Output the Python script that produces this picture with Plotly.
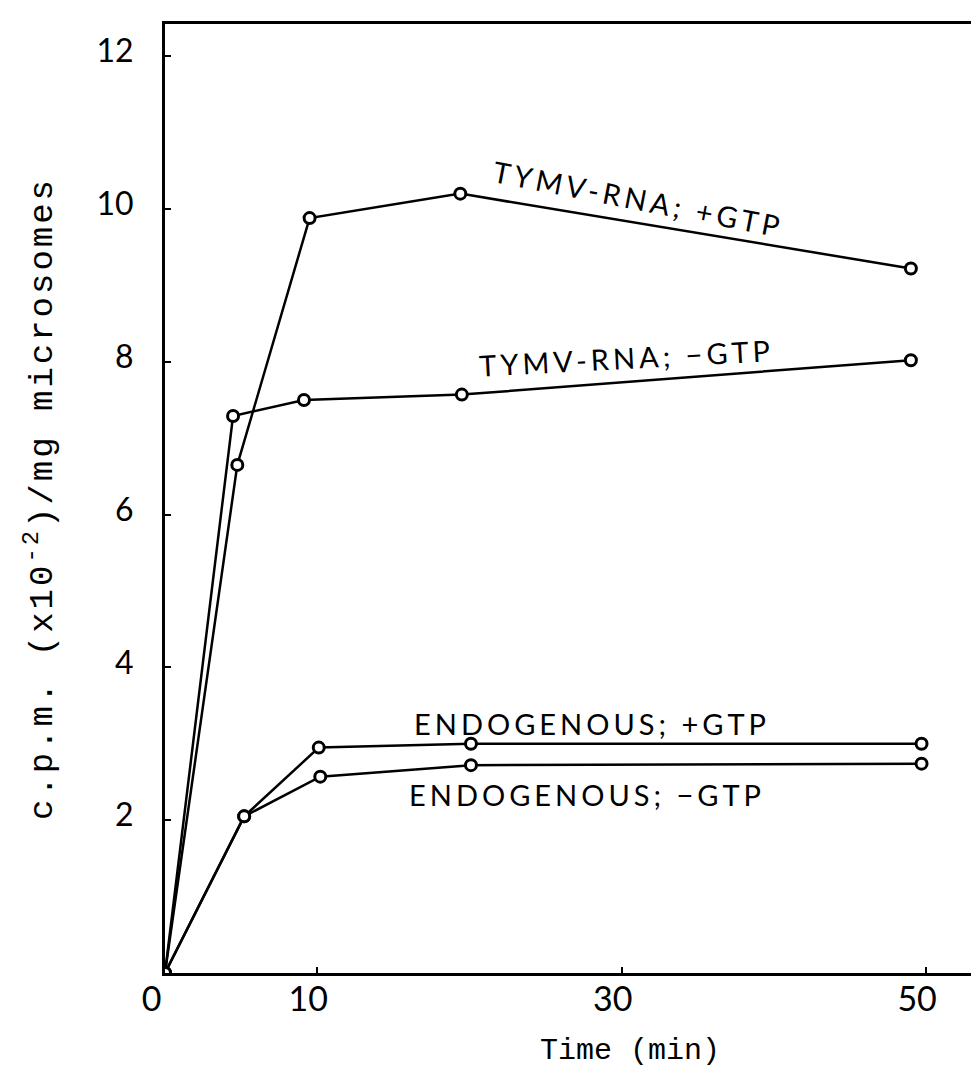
import plotly.graph_objects as go

# ---- data ----
time_tymv_plus = [0, 4.75, 9.5, 19.4, 49.0]
cpm_tymv_plus = [0, 6.65, 9.88, 10.2, 9.22]

time_tymv_minus = [0, 4.47, 9.13, 19.5, 49.0]
cpm_tymv_minus = [0, 7.29, 7.50, 7.57, 8.02]

time_endo_plus = [0, 5.2, 10.1, 20.1, 49.7]
cpm_endo_plus = [0, 2.05, 2.95, 3.0, 3.0]

time_endo_minus = [0, 5.2, 10.2, 20.1, 49.7]
cpm_endo_minus = [0, 2.05, 2.57, 2.72, 2.74]

x_tick_vals = [0, 10, 30, 50]
x_tick_text = ["0\u00a0", "10", "30", "50"]
y_tick_vals = [2, 4, 6, 8, 10, 12]
y_tick_text = ["2", "4", "6", "8", "10", "12"]

series = [
    (time_tymv_plus, cpm_tymv_plus, "TYMV-RNA; +GTP"),
    (time_tymv_minus, cpm_tymv_minus, "TYMV-RNA; −GTP"),
    (time_endo_plus, cpm_endo_plus, "ENDOGENOUS; +GTP"),
    (time_endo_minus, cpm_endo_minus, "ENDOGENOUS; −GTP"),
]

fig = go.Figure()
for xs, ys, name in series:
    fig.add_trace(go.Scatter(
        x=xs, y=ys, mode="lines+markers", name=name,
        line=dict(color="black", width=2.5),
        marker=dict(symbol="circle", size=11, color="white",
                    line=dict(color="black", width=3)),
        showlegend=False,
    ))

label_font = dict(family="Lato", size=29, color="black")
def spaced(t, px=4):
    return '<span style="letter-spacing:%dpx">' % px + t + '</span>'

annos = [
    dict(x=31.1, y=10.14, text=spaced("TYMV-RNA; +GTP"), textangle=11),
    dict(x=30.3, y=8.05, text=spaced("TYMV-RNA; −GTP"), textangle=-3),
    dict(x=28.05, y=3.26, text=spaced("ENDOGENOUS; +GTP"), textangle=0),
    dict(x=27.7, y=2.33, text=spaced("ENDOGENOUS; −GTP"), textangle=0),
]
for a in annos:
    fig.add_annotation(xref="x", yref="y", showarrow=False, font=label_font, **a)

# x-axis title placed as a paper annotation (it sits right of centre in the reference)
fig.add_annotation(xref="paper", yref="paper", x=(622 - 157) / 822, y=-(1043 - 965) / 949,
                   text="Time (min)", showarrow=False, xanchor="center", yanchor="middle",
                   font=dict(family="Liberation Mono", size=30, color="black"))

fig.update_layout(
    width=979, height=1070,
    margin=dict(l=157, r=0, t=16, b=105),
    paper_bgcolor="white", plot_bgcolor="white",
    xaxis=dict(
        range=[0, 54.0], tickvals=x_tick_vals, ticktext=x_tick_text,
        ticks="inside", ticklen=6, tickwidth=2, tickcolor="black",
        showline=True, linecolor="black", linewidth=3, mirror=True,
        showgrid=False, zeroline=False,
        tickfont=dict(family="Lato", size=34, color="black"),
        ticklabelstandoff=-6, ticklabelshift=-9,
    ),
    yaxis=dict(
        range=[0, 12.42], tickvals=y_tick_vals, ticktext=y_tick_text,
        ticks="inside", ticklen=6, tickwidth=2, tickcolor="black",
        showline=True, linecolor="black", linewidth=3, mirror=False,
        showgrid=False, zeroline=False,
        tickfont=dict(family="Lato", size=32, color="black"),
        ticklabelstandoff=22, ticklabelshift=-5,
        title=dict(text=spaced("c.p.m. (x10<sup>-2</sup>)/mg microsomes", 3),
                   font=dict(family="Liberation Mono", size=34, color="black"),
                   standoff=34),
    ),
)

fig.write_html("out.html")
